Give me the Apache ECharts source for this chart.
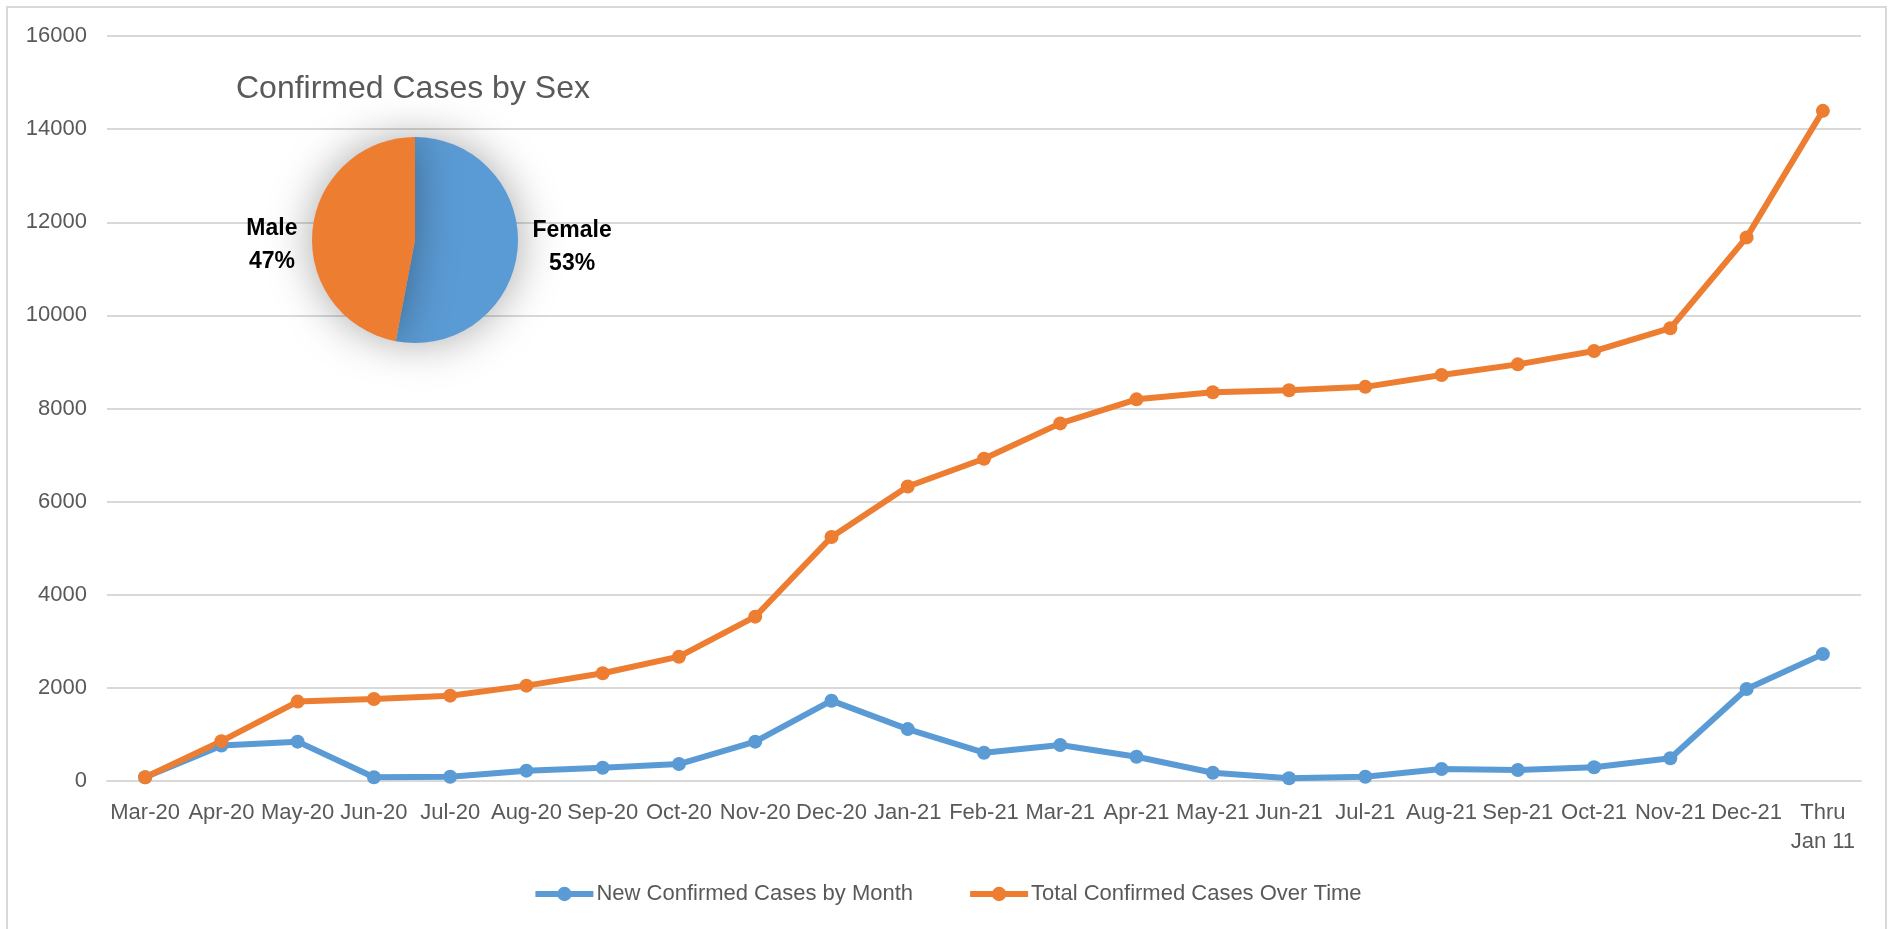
<!DOCTYPE html>
<html>
<head>
<meta charset="utf-8">
<script src="https://cdn.jsdelivr.net/npm/echarts@6/dist/echarts.min.js"></script>
<style>
  html, body { margin: 0; padding: 0; background: #fff; }
  .frame {
    position: absolute;
    left: 6px;
    top: 6px;
    width: 1881px;
    height: 940px;
    border: 2px solid #d9d9d9;
    box-sizing: border-box;
  }
  #chart {
    position: absolute;
    left: 0;
    top: 0;
    width: 1894px;
    height: 929px;
  }
</style>
</head>
<body>
<div class="frame"></div>
<div id="chart"></div>
<script>
const months = [
  'Mar-20', 'Apr-20', 'May-20', 'Jun-20', 'Jul-20', 'Aug-20', 'Sep-20', 'Oct-20',
  'Nov-20', 'Dec-20', 'Jan-21', 'Feb-21', 'Mar-21', 'Apr-21', 'May-21', 'Jun-21',
  'Jul-21', 'Aug-21', 'Sep-21', 'Oct-21', 'Nov-21', 'Dec-21', 'Thru\nJan 11'
]

const newCases = [
  80, 760, 845, 80, 92, 222, 286, 365,
  845, 1725, 1115, 608, 773, 522, 178, 58,
  92, 258, 236, 294, 488, 1976, 2725
]

const totalCases = [
  80, 856, 1705, 1761, 1833, 2048, 2313, 2670,
  3530, 5240, 6325, 6920, 7680, 8197, 8349, 8392,
  8465, 8718, 8948, 9234, 9724, 11675, 14392
]

const sexNames = ['Female', 'Male']
const sexShares = [53, 47]

const yTicks = { min: 0, max: 16000, interval: 2000 }

const blue = '#5b9bd5'
const orange = '#ed7d31'
const gray = '#595959'
const gridColor = '#d9d9d9'
const font = '"Liberation Sans", Arial, sans-serif'

const chart = echarts.init(document.getElementById('chart'), null, { renderer: 'canvas' })

const lineSeries = (name, data, color) => ({
  type: 'line',
  name,
  data,
  symbol: 'circle',
  symbolSize: 14,
  showAllSymbol: true,
  lineStyle: { color, width: 6 },
  itemStyle: { color },
  z: 3
})

chart.setOption({
  animation: false,
  textStyle: { fontFamily: font },
  title: {
    text: 'Confirmed Cases by Sex',
    left: 236,
    top: 73,
    padding: 0,
    textStyle: { color: gray, fontSize: 32, fontWeight: 'normal', fontFamily: font }
  },
  legend: {
    top: 878,
    left: 'center',
    itemWidth: 58,
    itemHeight: 18,
    itemGap: 54,
    lineStyle: { width: 6 },
    textStyle: { color: gray, fontSize: 22, fontFamily: font, padding: [0, 0, 0, -2] },
    data: ['New Confirmed Cases by Month', 'Total Confirmed Cases Over Time']
  },
  grid: {
    left: 107,
    right: 33,
    top: 36,
    bottom: 148,
    containLabel: false,
    outerBoundsMode: 'none'
  },
  xAxis: {
    type: 'category',
    data: months,
    boundaryGap: true,
    axisLine: { show: true, lineStyle: { color: gridColor, width: 2 } },
    axisTick: { show: false },
    axisLabel: {
      interval: 0,
      margin: 17,
      color: gray,
      fontSize: 22,
      lineHeight: 29,
      fontFamily: font
    }
  },
  yAxis: {
    type: 'value',
    min: yTicks.min,
    max: yTicks.max,
    interval: yTicks.interval,
    axisLine: { show: false },
    axisTick: { show: false },
    axisLabel: {
      margin: 20,
      color: gray,
      fontSize: 22,
      fontFamily: font,
      formatter: (v) => String(v)
    },
    splitLine: { lineStyle: { color: gridColor, width: 2 } }
  },
  series: [
    lineSeries('New Confirmed Cases by Month', newCases, blue),
    lineSeries('Total Confirmed Cases Over Time', totalCases, orange),
    {
      type: 'pie',
      name: 'Confirmed Cases by Sex',
      center: [415, 240],
      radius: 103,
      startAngle: 90,
      clockwise: true,
      z: 5,
      data: sexNames.map((name, i) => ({
        name,
        value: sexShares[i],
        itemStyle: { color: i === 0 ? blue : orange }
      })),
      itemStyle: {
        borderWidth: 0,
        shadowBlur: 45,
        shadowColor: 'rgba(0, 0, 0, 0.35)'
      },
      label: {
        show: true,
        position: 'outside',
        formatter: '{t|{b}}\n{t|{d}%}',
        rich: {
          t: {
            fontFamily: font,
            fontSize: 23,
            fontWeight: 'bold',
            color: '#000',
            lineHeight: 33,
            align: 'center'
          }
        }
      },
      labelLine: { show: false, length: 8, length2: 2 },
      // Excel keeps both labels level with the pie centre
      labelLayout: (params) => (params.dataIndex === 1 ? { dy: 16 } : { dy: -3 }),
      emphasis: { disabled: true }
    }
  ]
})
</script>
</body>
</html>
